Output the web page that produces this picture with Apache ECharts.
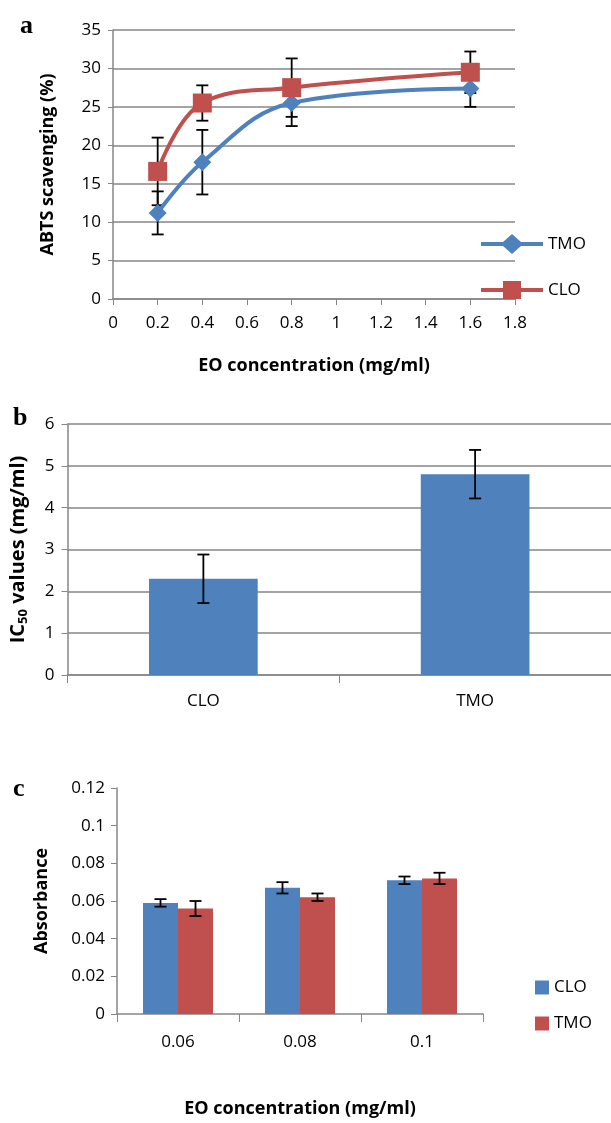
<!DOCTYPE html>
<html>
<head>
<meta charset="utf-8">
<script src="https://cdn.jsdelivr.net/npm/echarts@6/dist/echarts.min.js"></script>
<style>
  html, body { margin: 0; padding: 0; background: #fff; }
  .panel { position: absolute; left: 0; width: 611px; }
  #chartA { top: 0; height: 380px; }
  #chartB { top: 380px; height: 390px; }
  #chartC { top: 770px; height: 353px; }
</style>
</head>
<body>
<div id="chartA" class="panel"></div>
<div id="chartB" class="panel"></div>
<div id="chartC" class="panel"></div>
<script>
// panel a: ABTS scavenging
const xConc = [0.2, 0.4, 0.8, 1.6];
const tmoAbts = [11.2, 17.8, 25.5, 27.4];
const tmoAbtsErr = [2.8, 4.2, 3.0, 2.4];
const cloAbts = [16.6, 25.5, 27.5, 29.5];
const cloAbtsErr = [4.4, 2.3, 3.8, 2.7];

// panel b: IC50
const ic50Cats = ["CLO", "TMO"];
const ic50Vals = [2.3, 4.8];
const ic50Err = [0.58, 0.58];

// panel c: absorbance
const absCats = ["0.06", "0.08", "0.1"];
const cloAbs = [0.059, 0.067, 0.071];
const cloAbsErr = [0.002, 0.003, 0.002];
const tmoAbs = [0.056, 0.062, 0.072];
const tmoAbsErr = [0.004, 0.002, 0.003];

const BLUE = "#4F81BD";
const RED = "#C0504D";
const AXIS = "#868686";
const FONT = "Open Sans";

// legend icons: thick line with marker in the middle (62 x 20 box)
const ICON_DIAMOND = "path://M0,8H22L31,0L40,8H62V12H40L31,20L22,12H0Z";
const ICON_SQUARE = "path://M0,8H22V1H40V8H62V12H40V19H22V12H0Z";

function panelTitle(t, left, top) {
  return {
    text: t, left: left, top: top,
    textStyle: { fontFamily: "Liberation Serif", fontWeight: "bold", fontSize: 26, color: "#000" }
  };
}

function errLines(p, lo, hi, cap) {
  const s = { stroke: "#000", lineWidth: 1.8 };
  return {
    type: "group",
    children: [
      { type: "line", shape: { x1: p, y1: lo, x2: p, y2: hi }, style: s },
      { type: "line", shape: { x1: p - cap, y1: lo, x2: p + cap, y2: lo }, style: s },
      { type: "line", shape: { x1: p - cap, y1: hi, x2: p + cap, y2: hi }, style: s }
    ]
  };
}

// errors on a value x axis
function xyErrSeries(xs, ys, errs) {
  return {
    type: "custom", z: 1, silent: true,
    data: xs.map((x, i) => [x, ys[i] - errs[i], ys[i] + errs[i]]),
    renderItem(params, api) {
      const a = api.coord([api.value(0), api.value(1)]);
      const b = api.coord([api.value(0), api.value(2)]);
      return errLines(a[0], a[1], b[1], 6);
    }
  };
}

// errors on bars, shifted by offset (fraction of band)
function barErrSeries(vals, errs, offset) {
  return {
    type: "custom", z: 5, silent: true,
    data: vals.map((v, i) => [i, v - errs[i], v + errs[i]]),
    renderItem(params, api) {
      const band = api.size([1, 0])[0];
      const a = api.coord([api.value(0), api.value(1)]);
      const b = api.coord([api.value(0), api.value(2)]);
      return errLines(a[0] + offset * band, a[1], b[1], 6);
    }
  };
}

const tickLabel = { color: "#000", fontSize: 17, fontFamily: FONT };
const axisName = { color: "#000", fontSize: 18, fontWeight: "bold", fontFamily: FONT };

// ---------- a ----------
let chartA = echarts.init(document.getElementById("chartA"));
chartA.setOption({
  animation: false,
  title: panelTitle("a", 15, 8),
  grid: { left: 113, top: 30, width: 402, height: 269 },
  legend: {
    orient: "vertical", left: 476, top: 229, itemGap: 27,
    itemWidth: 62, itemHeight: 20,
    data: [
      { name: "TMO", icon: ICON_DIAMOND },
      { name: "CLO", icon: ICON_SQUARE }
    ],
    textStyle: { color: "#000", fontSize: 17, fontFamily: FONT }
  },
  xAxis: {
    type: "value", min: 0, max: 1.8, interval: 0.2,
    name: "EO concentration (mg/ml)", nameLocation: "middle", nameGap: 58,
    nameTextStyle: axisName,
    axisLine: { show: true, lineStyle: { color: AXIS, width: 1.5 } },
    axisTick: { show: true, length: 6, lineStyle: { color: AXIS } },
    axisLabel: Object.assign({ margin: 16 }, tickLabel),
    splitLine: { show: false }
  },
  yAxis: {
    type: "value", min: 0, max: 35, interval: 5,
    name: "ABTS scavenging (%)", nameLocation: "middle", nameGap: 56,
    nameTextStyle: axisName,
    axisLine: { show: true, lineStyle: { color: AXIS, width: 1.5 } },
    axisTick: { show: true, length: 5, lineStyle: { color: AXIS } },
    axisLabel: Object.assign({ margin: 12 }, tickLabel),
    splitLine: { lineStyle: { color: AXIS, width: 1.5 } }
  },
  series: [
    xyErrSeries(xConc, tmoAbts, tmoAbtsErr),
    xyErrSeries(xConc, cloAbts, cloAbtsErr),
    {
      name: "TMO", type: "line", z: 3, smooth: 0.4,
      data: xConc.map((x, i) => [x, tmoAbts[i]]),
      symbol: "diamond", symbolSize: 18,
      lineStyle: { color: BLUE, width: 4 },
      itemStyle: { color: BLUE }
    },
    {
      name: "CLO", type: "line", z: 3, smooth: 0.4,
      data: xConc.map((x, i) => [x, cloAbts[i]]),
      symbol: "rect", symbolSize: 19,
      lineStyle: { color: RED, width: 4 },
      itemStyle: { color: RED }
    }
  ]
});

// ---------- b ----------
let chartB = echarts.init(document.getElementById("chartB"));
chartB.setOption({
  animation: false,
  title: panelTitle("b", 8, 20),
  grid: { left: 65, top: 44, width: 560, height: 251 },
  xAxis: {
    type: "category", data: ic50Cats,
    axisLine: { show: true, lineStyle: { color: AXIS, width: 1.5 } },
    axisTick: { show: true, length: 8, lineStyle: { color: AXIS } },
    axisLabel: Object.assign({ margin: 18 }, tickLabel)
  },
  yAxis: {
    type: "value", min: 0, max: 6, interval: 1,
    name: "{n|IC}{s|50}{n| values (mg/ml)}", nameLocation: "middle", nameGap: 38,
    nameTextStyle: {
      rich: {
        n: { color: "#000", fontSize: 20, fontWeight: "bold", fontFamily: FONT },
        s: { color: "#000", fontSize: 13, fontWeight: "bold", fontFamily: FONT, padding: [10, 0, 0, 0] }
      }
    },
    axisLine: { show: true, lineStyle: { color: AXIS, width: 1.5 } },
    axisTick: { show: true, length: 6, lineStyle: { color: AXIS } },
    axisLabel: Object.assign({ margin: 13 }, tickLabel),
    splitLine: { lineStyle: { color: AXIS, width: 1.5 } }
  },
  series: [
    {
      type: "bar", barWidth: "40%", data: ic50Vals,
      itemStyle: { color: BLUE }
    },
    barErrSeries(ic50Vals, ic50Err, 0)
  ]
});

// ---------- c ----------
const BAR_FRAC = 0.287;
let chartC = echarts.init(document.getElementById("chartC"));
chartC.setOption({
  animation: false,
  title: panelTitle("c", 8, 1),
  grid: { left: 117, top: 18, width: 366, height: 233 },
  legend: {
    orient: "vertical", left: 530, top: 204, itemGap: 19,
    itemWidth: 14, itemHeight: 14, icon: "rect",
    data: ["CLO", "TMO"],
    textStyle: { color: "#000", fontSize: 17, fontFamily: FONT }
  },
  xAxis: {
    type: "category", data: absCats,
    name: "EO concentration (mg/ml)", nameLocation: "middle", nameGap: 86,
    nameTextStyle: axisName,
    axisLine: { show: true, lineStyle: { color: AXIS, width: 1.5 } },
    axisTick: { show: true, length: 8, lineStyle: { color: AXIS } },
    axisLabel: Object.assign({ margin: 20 }, tickLabel)
  },
  yAxis: {
    type: "value", min: 0, max: 0.12, interval: 0.02,
    name: "Absorbance", nameLocation: "middle", nameGap: 66,
    nameTextStyle: axisName,
    axisLine: { show: true, lineStyle: { color: AXIS, width: 1.5 } },
    axisTick: { show: true, length: 6, lineStyle: { color: AXIS } },
    axisLabel: Object.assign({ margin: 12 }, tickLabel),
    splitLine: { show: false }
  },
  series: [
    {
      name: "CLO", type: "bar", barWidth: (BAR_FRAC * 100) + "%", barGap: "0%",
      data: cloAbs, itemStyle: { color: BLUE }
    },
    {
      name: "TMO", type: "bar", barWidth: (BAR_FRAC * 100) + "%", barGap: "0%",
      data: tmoAbs, itemStyle: { color: RED }
    },
    barErrSeries(cloAbs, cloAbsErr, -BAR_FRAC / 2),
    barErrSeries(tmoAbs, tmoAbsErr, BAR_FRAC / 2)
  ]
});
</script>
</body>
</html>
